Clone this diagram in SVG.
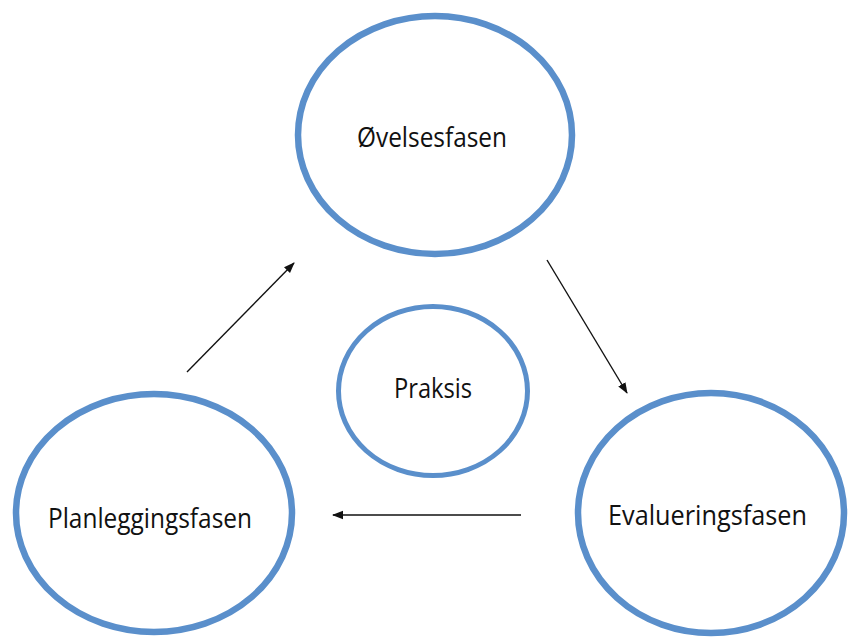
<svg xmlns="http://www.w3.org/2000/svg" width="848" height="637" viewBox="0 0 848 637">
<style>
.node ellipse{fill:#fff;stroke:#5a8fcb;stroke-width:6.5}
.node text{font-family:"Open Sans","Noto Sans",sans-serif;font-size:27px;fill:#111}
.conn line{stroke:#111;stroke-width:1.4;marker-end:url(#ah)}
</style>
<defs>
<marker id="ah" markerWidth="12" markerHeight="10" refX="10" refY="5" orient="auto" markerUnits="userSpaceOnUse">
<path d="M0,0.8 L11,5 L0,9.2 Z" fill="#111"/>
</marker>
</defs>
<rect width="848" height="637" fill="#fff"/>
<g id="ovelsesfasen" class="node">
<ellipse cx="435" cy="135" rx="137" ry="119"/>
<text x="357" y="147" textLength="150" lengthAdjust="spacingAndGlyphs">Øvelsesfasen</text>
</g>
<g id="praksis" class="node">
<ellipse cx="433" cy="391" rx="94.5" ry="84.5" style="stroke-width:5"/>
<text x="394" y="398" textLength="78" lengthAdjust="spacingAndGlyphs">Praksis</text>
</g>
<g id="planleggingsfasen" class="node">
<ellipse cx="154" cy="513" rx="138" ry="119"/>
<text x="48" y="528" textLength="204" lengthAdjust="spacingAndGlyphs">Planleggingsfasen</text>
</g>
<g id="evalueringsfasen" class="node">
<ellipse cx="711" cy="513" rx="133" ry="120"/>
<text x="608" y="525" textLength="199" lengthAdjust="spacingAndGlyphs">Evalueringsfasen</text>
</g>
<g id="connectors" class="conn">
<line x1="187" y1="372" x2="294" y2="263"/>
<line x1="547" y1="260" x2="627" y2="393"/>
<line x1="521" y1="515" x2="333" y2="515"/>
</g>
</svg>
